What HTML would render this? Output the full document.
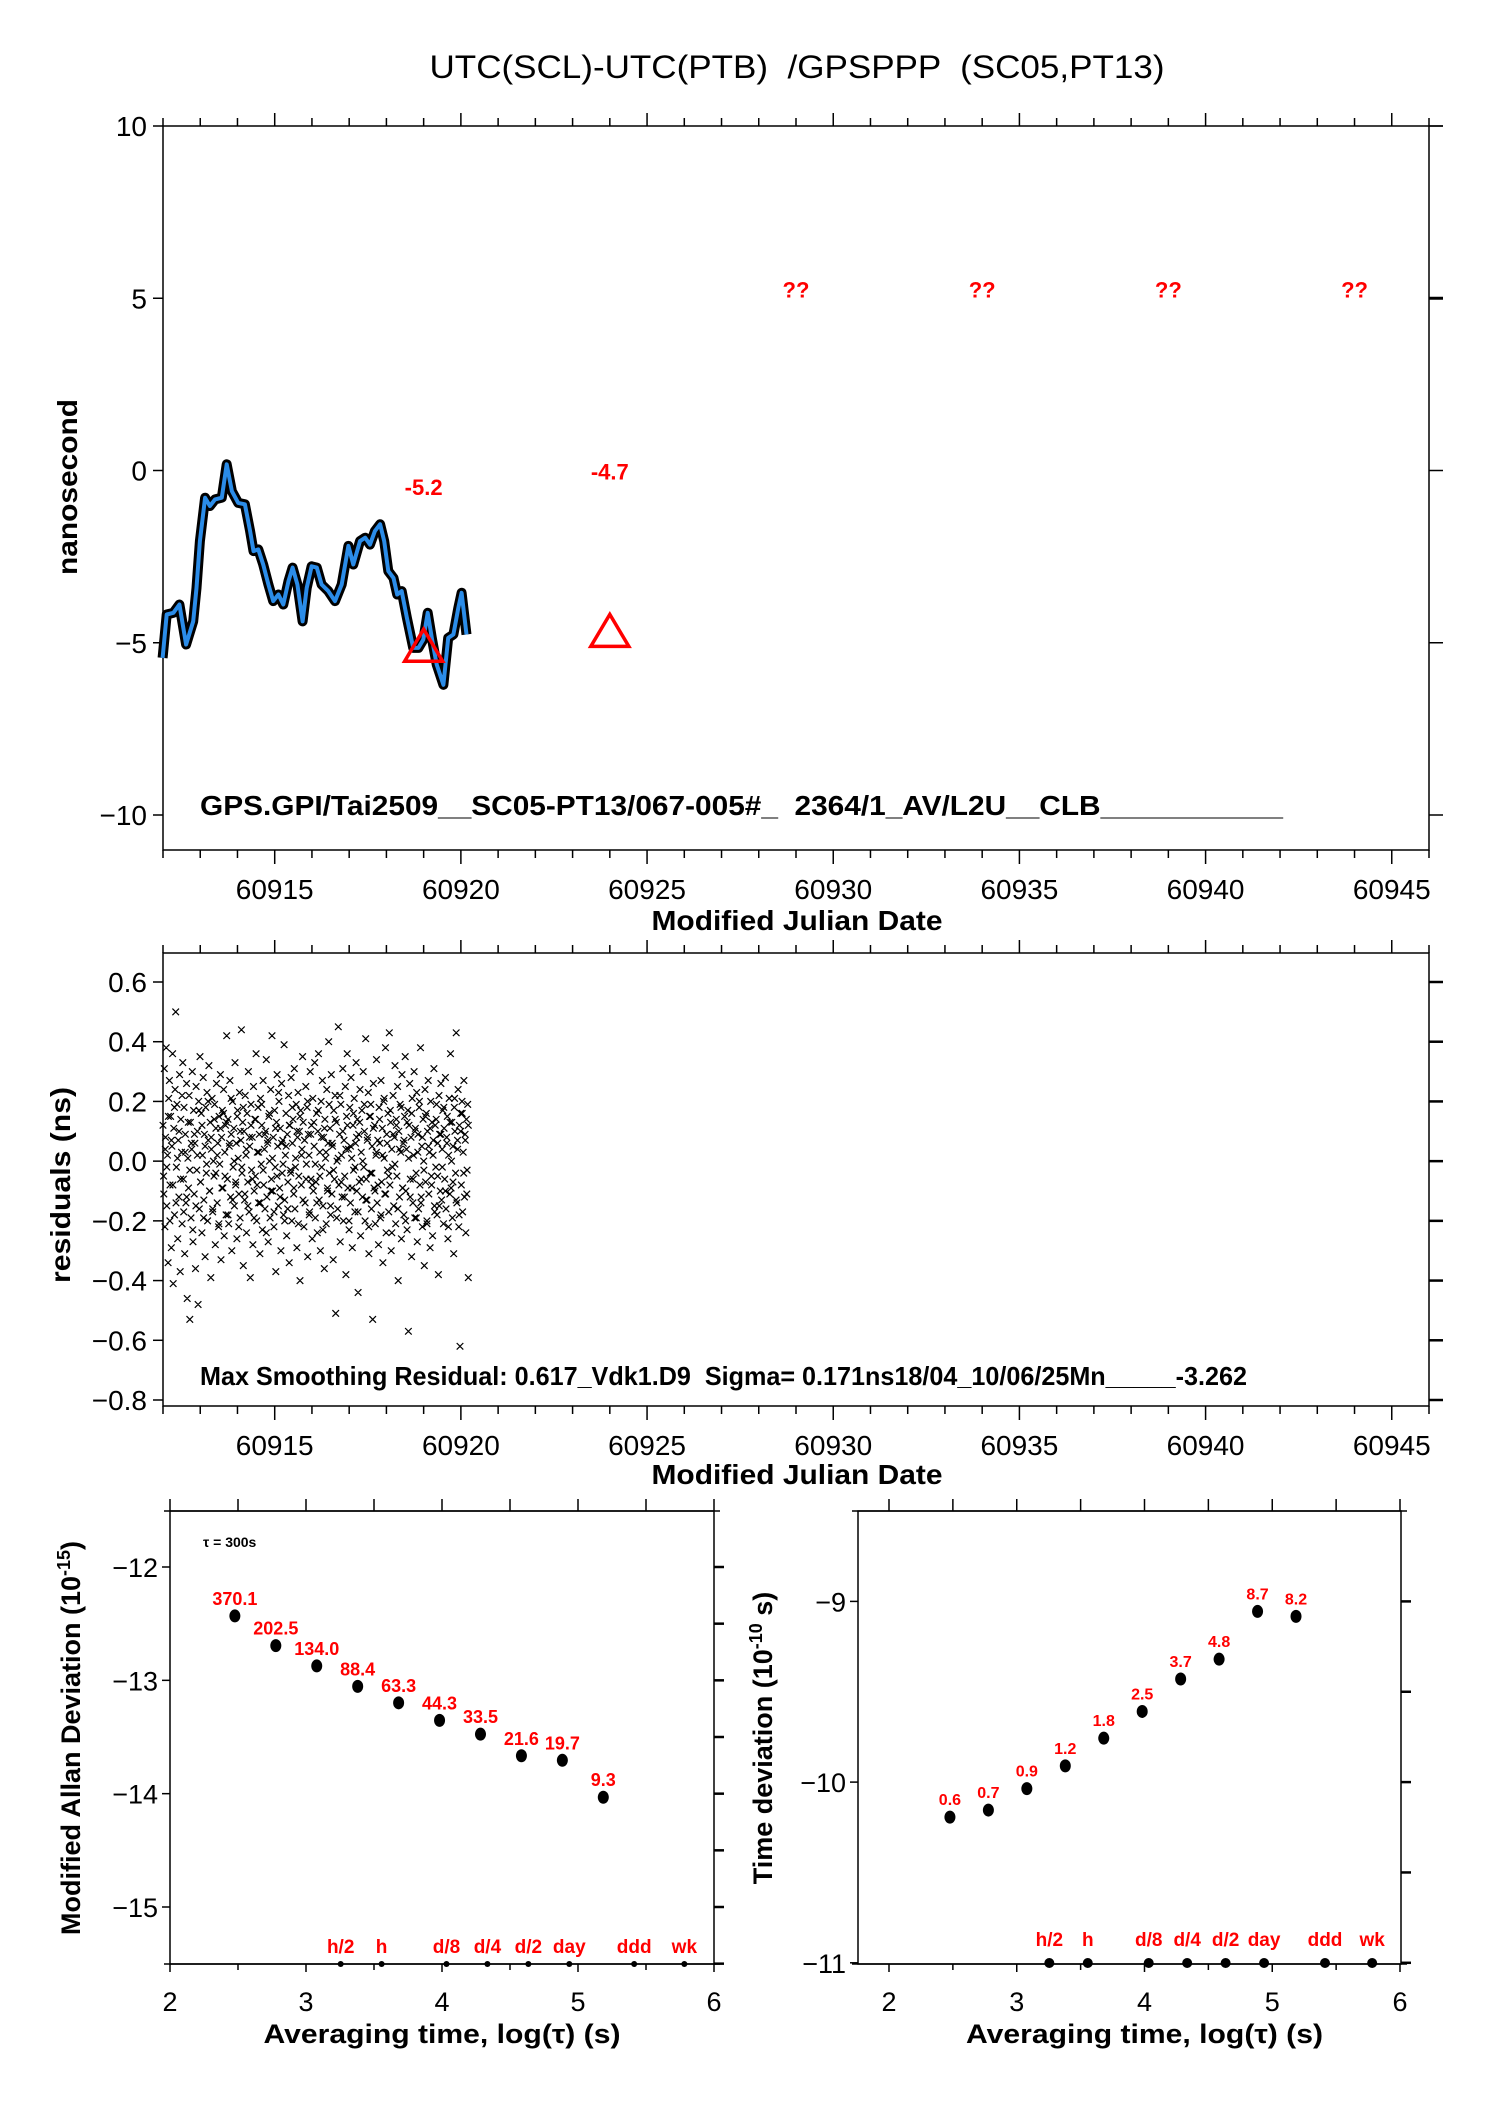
<!DOCTYPE html>
<html><head><meta charset="utf-8">
<style>
html,body{margin:0;padding:0;background:#fff;}
svg{display:block;}
text{font-family:"Liberation Sans",sans-serif;white-space:pre;}
.tk{font-size:28px;fill:#000;}
.b{font-weight:bold;}
</style></head>
<body>
<svg id="chart" xmlns="http://www.w3.org/2000/svg" width="1488" height="2105" viewBox="0 0 1488 2105">
<rect width="1488" height="2105" fill="#fff"/>
<text x="797" y="78" text-anchor="middle" font-size="32" textLength="735" lengthAdjust="spacingAndGlyphs">UTC(SCL)-UTC(PTB)  /GPSPPP  (SC05,PT13)</text>
<g id="p1"></g>
<g id="p2"></g>
<g id="p3"></g>
<g id="p4"></g>
</svg>
<script>
// ---- top plot data ----
const mjdSmooth = [60911.99,60912.10,60912.28,60912.44,60912.62,60912.81,60912.90,60912.99,60913.13,60913.26,60913.40,60913.58,60913.71,60913.85,60914.02,60914.20,60914.34,60914.43,60914.56,60914.69,60914.83,60914.96,60915.10,60915.23,60915.37,60915.48,60915.61,60915.75,60915.86,60915.99,60916.13,60916.26,60916.44,60916.62,60916.80,60916.98,60917.11,60917.29,60917.43,60917.56,60917.69,60917.83,60917.94,60918.05,60918.19,60918.29,60918.41,60918.55,60918.72,60918.86,60918.99,60919.11,60919.22,60919.35,60919.53,60919.66,60919.80,60919.93,60920.02,60920.15];
const nsSmooth = [-5.44,-4.18,-4.13,-3.89,-5.05,-4.38,-3.41,-2.05,-0.79,-1.03,-0.84,-0.79,0.18,-0.60,-0.94,-0.98,-1.76,-2.34,-2.29,-2.73,-3.31,-3.79,-3.60,-3.89,-3.21,-2.82,-3.31,-4.38,-3.41,-2.78,-2.82,-3.31,-3.50,-3.79,-3.31,-2.19,-2.73,-2.05,-1.95,-2.15,-1.76,-1.56,-2.05,-2.92,-3.12,-3.60,-3.50,-4.28,-5.15,-5.15,-4.91,-4.13,-4.86,-5.63,-6.22,-4.86,-4.76,-3.99,-3.55,-4.76];
const triMjd = [60919.0, 60924.0];
const triNs = [-5.1, -4.67];
const triLabels = ["-5.2","-4.7"];
const triLabelNs = [-0.48, -0.03];
const qMjd = [60929.0,60934.0,60939.0,60944.0];
const qNs = [5.25,5.25,5.25,5.25];
const xTicks = [60915,60920,60925,60930,60935,60940,60945];
const yTicks1 = [10,5,0,-5,-10];
// ---- residuals ----
const resStart = 60912.0;
const resEnd = 60920.2;
const resid = [
0.12,-0.05,0.31,-0.22,0.08,0.38,-0.15,0.02,-0.34,0.21,0.27,-0.08,0.15,-0.29,0.05,0.36,-0.41,0.11,-0.18,0.24,
0.50,-0.02,0.19,-0.26,0.07,-0.12,0.29,-0.37,0.14,0.03,-0.21,0.33,-0.06,0.18,-0.31,0.09,-0.14,0.26,-0.46,0.01,
-0.09,0.22,-0.53,0.13,-0.19,0.04,0.30,-0.27,0.17,-0.11,0.06,-0.36,0.25,-0.03,0.10,-0.48,0.20,-0.16,0.35,-0.07,
0.16,-0.24,0.02,0.28,-0.13,0.09,-0.32,0.18,-0.04,0.23,-0.20,0.07,0.32,-0.10,0.13,-0.39,0.04,0.21,-0.17,0.00,
-0.05,0.19,-0.28,0.11,0.26,-0.14,0.06,-0.22,0.15,-0.01,0.29,-0.33,0.08,0.17,-0.09,0.24,-0.25,0.03,0.12,-0.18,
0.42,-0.06,0.14,-0.21,0.05,0.27,-0.12,0.09,-0.30,0.20,-0.02,0.11,-0.15,0.33,-0.08,0.06,-0.26,0.17,0.01,-0.11,
0.23,-0.19,0.07,0.44,-0.04,0.13,-0.35,0.10,-0.13,0.22,0.02,-0.24,0.16,-0.07,0.30,-0.17,0.05,-0.39,0.19,-0.03,
0.08,-0.28,0.25,-0.10,0.14,-0.05,0.36,-0.20,0.03,0.18,-0.14,0.09,-0.31,0.21,-0.01,0.12,-0.23,0.27,-0.08,0.04,
-0.16,0.10,0.34,-0.12,0.06,-0.27,0.15,0.00,-0.19,0.24,-0.06,0.42,-0.10,0.08,-0.22,0.17,-0.02,-0.37,0.13,0.29,
0.05,-0.15,0.20,-0.09,0.11,-0.30,0.26,-0.04,0.07,-0.18,0.39,-0.13,0.02,0.16,-0.25,0.09,-0.07,0.22,-0.34,0.12,
-0.03,0.28,-0.20,0.06,0.14,-0.11,0.31,-0.16,0.01,0.19,-0.29,0.08,0.23,-0.05,0.10,-0.40,0.17,-0.08,0.04,0.35,
0.13,-0.22,0.07,-0.14,0.25,-0.01,0.18,-0.32,0.09,0.02,-0.17,0.30,-0.06,0.12,-0.26,0.21,-0.10,0.05,0.33,-0.19,
-0.07,0.16,-0.24,0.10,0.36,-0.13,0.03,-0.30,0.20,-0.02,0.27,-0.15,0.08,-0.36,0.14,0.01,-0.21,0.24,-0.09,0.06,
0.40,-0.04,0.11,-0.18,0.29,-0.11,0.05,-0.33,0.17,-0.06,0.22,-0.51,0.13,0.00,-0.16,0.45,-0.08,0.09,-0.27,0.19,
0.02,-0.12,0.31,-0.20,0.07,-0.05,0.25,-0.38,0.15,0.36,-0.09,0.04,-0.23,0.18,-0.14,0.28,0.01,-0.29,0.12,-0.03,
0.21,-0.17,0.06,0.33,-0.10,0.14,-0.44,0.09,-0.07,0.24,-0.25,0.03,0.17,-0.12,0.30,-0.02,0.10,-0.20,0.41,-0.06,
-0.13,0.08,0.23,-0.31,0.15,-0.04,0.19,-0.16,0.05,-0.53,0.26,-0.09,0.12,-0.21,0.02,0.34,-0.14,0.07,-0.28,0.18,
0.06,-0.19,0.27,-0.07,0.11,-0.34,0.20,0.01,-0.11,0.38,-0.24,0.09,-0.03,0.16,-0.17,0.43,-0.08,0.13,-0.30,0.04,
-0.02,0.22,-0.15,0.08,0.32,-0.21,0.14,-0.05,0.25,-0.40,0.10,-0.12,0.19,0.03,-0.26,0.29,-0.09,0.06,-0.18,0.15,
0.35,-0.10,0.04,-0.23,0.17,-0.57,0.12,0.26,-0.06,0.08,-0.32,0.21,-0.14,0.02,0.30,-0.19,0.11,-0.04,0.23,-0.27,
0.09,-0.16,0.18,-0.08,0.38,-0.12,0.05,-0.22,0.14,0.00,-0.35,0.24,-0.07,0.16,-0.20,0.10,0.27,-0.11,0.03,-0.29,
0.20,-0.05,0.13,-0.25,0.07,0.31,-0.15,0.12,-0.02,0.19,-0.18,0.06,-0.38,0.22,0.09,-0.10,0.26,-0.13,0.04,0.17,
-0.21,0.11,-0.06,0.28,-0.16,0.08,0.15,-0.26,0.02,0.21,-0.11,0.36,-0.09,0.13,-0.19,0.05,-0.31,0.18,0.10,-0.04,
0.43,-0.14,0.07,0.24,-0.22,0.12,-0.62,0.16,-0.08,0.20,-0.17,0.03,0.27,-0.12,0.09,-0.24,0.14,-0.03,0.19,-0.39];
const resid2 = [
-0.11,0.04,-0.02,0.15,-0.20,0.07,-0.08,0.18,-0.14,0.01,0.10,-0.06,0.22,-0.17,0.03,-0.12,0.13,-0.03,0.06,-0.23,
0.09,-0.15,0.02,0.17,-0.07,0.12,-0.19,0.05,-0.01,0.20,-0.10,0.08,-0.16,0.14,-0.04,0.02,-0.21,0.11,-0.09,0.16,
-0.05,0.13,-0.18,0.06,0.21,-0.13,0.00,-0.07,0.15,-0.22,0.10,-0.02,0.18,-0.11,0.04,-0.15,0.08,0.12,-0.06,-0.19,
0.14,-0.08,0.03,-0.14,0.19,-0.03,0.09,-0.24,0.07,0.16,-0.10,0.01,-0.17,0.11,-0.05,0.23,-0.12,0.06,-0.01,-0.20,
0.05,-0.16,0.12,-0.04,0.18,-0.09,-0.02,0.10,-0.21,0.15,0.02,-0.13,0.07,-0.06,0.20,-0.18,0.09,-0.08,0.13,-0.01,
-0.14,0.17,-0.05,0.08,-0.23,0.11,0.03,-0.10,0.19,-0.15,0.06,-0.03,0.14,-0.19,0.01,0.22,-0.07,0.10,-0.12,0.04,
0.12,-0.20,0.05,-0.09,0.16,-0.02,0.08,-0.17,0.13,-0.06,0.00,0.19,-0.13,0.07,-0.22,0.15,-0.04,0.11,-0.10,0.03,
-0.08,0.14,-0.18,0.02,0.21,-0.11,0.06,-0.05,0.17,-0.24,0.09,-0.01,0.12,-0.16,0.04,0.18,-0.09,0.07,-0.20,0.13,
0.01,-0.12,0.16,-0.06,0.10,-0.19,0.03,0.20,-0.14,0.08,-0.03,0.15,-0.21,0.05,0.11,-0.08,0.02,-0.17,0.14,-0.05,
-0.15,0.09,-0.02,0.18,-0.10,0.06,-0.22,0.13,0.00,-0.07,0.21,-0.13,0.04,-0.18,0.10,0.16,-0.04,0.07,-0.11,0.12];
const resYTicks = [0.6,0.4,0.2,0.0,-0.2,-0.4,-0.6,-0.8];
const resYLabels = ["0.6","0.4","0.2","0.0","\u22120.2","\u22120.4","\u22120.6","\u22120.8"];
// ---- MDEV ----
const logTau = [2.477,2.778,3.079,3.380,3.681,3.982,4.283,4.584,4.885,5.186];
const mdevVals = [370.1,202.5,134.0,88.4,63.3,44.3,33.5,21.6,19.7,9.3];
const mdevLabels = ["370.1","202.5","134.0","88.4","63.3","44.3","33.5","21.6","19.7","9.3"];
// ---- TDEV ----
const tdevVals = [0.64,0.70,0.92,1.23,1.75,2.46,3.72,4.79,8.8,8.26];
const tdevLabels = ["0.6","0.7","0.9","1.2","1.8","2.5","3.7","4.8","8.7","8.2"];
const markNames = ["h/2","h","d/8","d/4","d/2","day","ddd","wk"];
const markLog = [3.255,3.556,4.033,4.334,4.635,4.936,5.413,5.782];

const NS="http://www.w3.org/2000/svg";
function lin(d0,d1,p0,p1){return v=>p0+(v-d0)*(p1-p0)/(d1-d0);}
function el(parent,tag,attrs,txt){const e=document.createElementNS(NS,tag);for(const k in attrs)e.setAttribute(k,attrs[k]);if(txt!==undefined)e.textContent=txt;parent.appendChild(e);return e;}
function line(g,x1,y1,x2,y2,w){return el(g,'line',{x1:x1,y1:y1,x2:x2,y2:y2,stroke:'#000','stroke-width':w||1.5});}

// ===== Plot 1 =====
(function(){
const g=document.getElementById('p1');
const X=lin(60912,60946,163,1429), Y=lin(10,-10,126,815);
const L=163,R=1429,T=126,B=850;
const fr=el(g,'rect',{x:L,y:T,width:R-L,height:B-T,fill:'none',stroke:'#000','stroke-width':1.5});


line(g,R,T,R+14,T);
for(let d=60912;d<=60946;d++){const x=X(d);const maj=(d%5===0);
 line(g,x,T,x,T-(maj?13:8));line(g,x,B,x,B+(maj?14:8));}
xTicks.forEach(v=>{const t=el(g,'text',{x:X(v),y:899,'text-anchor':'middle',class:'tk'},String(v));
 
 });
yTicks1.forEach(v=>{const y=Y(v);line(g,L-10,y,L,y);line(g,R,y,R+14,y,v===5?3:1.5);
 const t=el(g,'text',{x:L-16,y:y+10,'text-anchor':'end',class:'tk'},(v<0?'\u2212':'')+Math.abs(v));
 
 });
const xl=el(g,'text',{x:797,y:930,'text-anchor':'middle','font-size':28,class:'b',textLength:291,lengthAdjust:'spacingAndGlyphs'},'Modified Julian Date');


const yl=el(g,'text',{x:0,y:0,'text-anchor':'middle','font-size':28,class:'b',transform:'translate(77,487) rotate(-90)',textLength:176,lengthAdjust:'spacingAndGlyphs'},'nanosecond');


const pts=mjdSmooth.map((m,i)=>X(m).toFixed(1)+','+Y(nsSmooth[i]).toFixed(1)).join(' ');
const cl=el(g,'polyline',{points:pts,fill:'none',stroke:'#000','stroke-width':10,'stroke-linejoin':'round'});


const bl=el(g,'polyline',{points:pts,fill:'none',stroke:'#2b8ce8','stroke-width':4,'stroke-linejoin':'round'});


triMjd.forEach((m,i)=>{const x=X(m),y=Y(triNs[i]);
 const p=el(g,'polygon',{points:`${x},${y-17} ${x-19},${y+15} ${x+19},${y+15}`,fill:'none',stroke:'#f00','stroke-width':3.5});
 
 
 const t=el(g,'text',{x:x,y:Y(triLabelNs[i])+8,'text-anchor':'middle','font-size':22,class:'b',fill:'#f00'},triLabels[i]);
 
 });
qMjd.forEach((m,i)=>{const t=el(g,'text',{x:X(m),y:Y(qNs[i])+8,'text-anchor':'middle','font-size':22,class:'b',fill:'#f00'},'??');
 
 });
const c=el(g,'text',{x:200,y:815,'font-size':28,class:'b',textLength:1083,lengthAdjust:'spacingAndGlyphs'},'GPS.GPI/Tai2509__SC05-PT13/067-005#_  2364/1_AV/L2U__CLB___________');


})();

// ===== Plot 2 =====
(function(){
const g=document.getElementById('p2');
const X=lin(60912,60946,163,1429), Y=lin(0.6,-0.8,982,1400);
const L=163,R=1429,T=953,B=1406;
const fr=el(g,'rect',{x:L,y:T,width:R-L,height:B-T,fill:'none',stroke:'#000','stroke-width':1.5});


for(let d=60912;d<=60946;d++){const x=X(d);const maj=(d%5===0);
 line(g,x,T,x,T-(maj?13:8));line(g,x,B,x,B+(maj?14:8));}
xTicks.forEach(v=>{const t=el(g,'text',{x:X(v),y:1455,'text-anchor':'middle',class:'tk'},String(v));
 
 });
resYTicks.forEach((v,i)=>{const y=Y(v);line(g,L-10,y,L,y);line(g,R,y,R+14,y,2.5);
 const t=el(g,'text',{x:L-16,y:y+10,'text-anchor':'end',class:'tk'},resYLabels[i]);
 
 });
const xl=el(g,'text',{x:797,y:1484,'text-anchor':'middle','font-size':28,class:'b',textLength:291,lengthAdjust:'spacingAndGlyphs'},'Modified Julian Date');


const yl=el(g,'text',{x:0,y:0,'text-anchor':'middle','font-size':28,class:'b',transform:'translate(70,1185) rotate(-90)',textLength:196,lengthAdjust:'spacingAndGlyphs'},'residuals (ns)');


let d='';
function addPts(arr,phase){const n=arr.length;
 arr.forEach((v,i)=>{const x=X(resStart+(resEnd-resStart)*(i+phase)/(n-1+phase)),y=Y(v),s=3.3;
 d+=`M${(x-s).toFixed(1)},${(y-s).toFixed(1)}L${(x+s).toFixed(1)},${(y+s).toFixed(1)}M${(x-s).toFixed(1)},${(y+s).toFixed(1)}L${(x+s).toFixed(1)},${(y-s).toFixed(1)}`;});}
addPts(resid,0);addPts(resid2,0.5);
const sc=el(g,'path',{d:d,stroke:'#000','stroke-width':1.2,fill:'none'});


const c=el(g,'text',{x:200,y:1385,'font-size':26,class:'b',textLength:1047,lengthAdjust:'spacingAndGlyphs'},'Max Smoothing Residual: 0.617_Vdk1.D9  Sigma= 0.171ns18/04_10/06/25Mn_____-3.262');


})();

// ===== Stability plots =====
function stab(gid,X,Y,L,R,T,B,yTickVals,rTickVals,vals,labels,labFs,labOff,ylab,ylabX,sup,suffix,markY,markR,markLabY){
 const g=document.getElementById(gid);
 const fr=el(g,'rect',{x:L,y:T,width:R-L,height:B-T,fill:'none',stroke:'#000','stroke-width':1.5});
 
 
 line(g,L-6,T,R+6,T);line(g,L-6,B,R+6,B);
 for(let v=2;v<=6;v+=0.5){const x=X(v);line(g,x,T,x,T-12);line(g,x,B,x,B+(v%1===0?8:6));}
 [2,3,4,5,6].forEach(v=>{const t=el(g,'text',{x:X(v),y:2011,'text-anchor':'middle','font-size':27},String(v));
  
  });
 yTickVals.forEach(v=>{const y=Y(v);line(g,L-8,y,L,y);
  const t=el(g,'text',{x:L-12,y:y+10,'text-anchor':'end','font-size':27},'\u2212'+Math.abs(v));
  
  });
 rTickVals.forEach(v=>{const y=Y(v);line(g,R,y,R+10,y,2.5);});
 const xl=el(g,'text',{x:(X(2)+X(6))/2,y:2043,'text-anchor':'middle','font-size':27,class:'b',textLength:357,lengthAdjust:'spacingAndGlyphs'},'Averaging time, log(\u03c4) (s)');
 
 
 const yl=el(g,'text',{x:0,y:0,'text-anchor':'middle','font-size':27,class:'b',transform:`translate(${ylabX},1738) rotate(-90)`});
 
 
 el(yl,'tspan',{},ylab+' (10');
 el(yl,'tspan',{dy:-10,'font-size':18},sup);
 el(yl,'tspan',{dy:10},suffix);
 vals.forEach((v,i)=>{const x=X(logTau[i]),y=Y(Math.log10(v)+(gid==='p3'?-15:-10));
  const c=el(g,'ellipse',{cx:x,cy:y,rx:5.5,ry:6.5,fill:'#000'});
  
  
  const t=el(g,'text',{x:x,y:y-labOff,'text-anchor':'middle','font-size':labFs,class:'b',fill:'#f00'},labels[i]);
  
  });
 markLog.forEach((v,i)=>{const x=X(v);
  const c=el(g,'circle',{cx:x,cy:markY,r:markR,fill:'#000'});
  
  
  const t=el(g,'text',{x:x,y:markLabY,'text-anchor':'middle','font-size':19,class:'b',fill:'#f00'},markNames[i]);
  
  });
}
stab('p3',lin(2,6,170,714),lin(-12,-15,1567,1907),170,714,1511,1964,[-12,-13,-14,-15],[-12,-12.5,-13,-13.5,-14,-14.5,-15,-15.5],mdevVals,mdevLabels,18,11,'Modified Allan Deviation',80,'-15',')',1964,3,1953);
stab('p4',lin(2,6,889,1400),lin(-9,-11,1601.4,1962.8),858,1401,1511,1964,[-9,-10,-11],[-9,-9.5,-10,-10.5,-11],tdevVals,tdevLabels,16,12,'Time deviation',772,'-10',' s)',1963,5,1946);
(function(){const g=document.getElementById('p3');
 const t=el(g,'text',{x:203,y:1547,'font-size':14,class:'b'},'\u03c4 = 300s');
 
 })();
</script>
</body></html>
